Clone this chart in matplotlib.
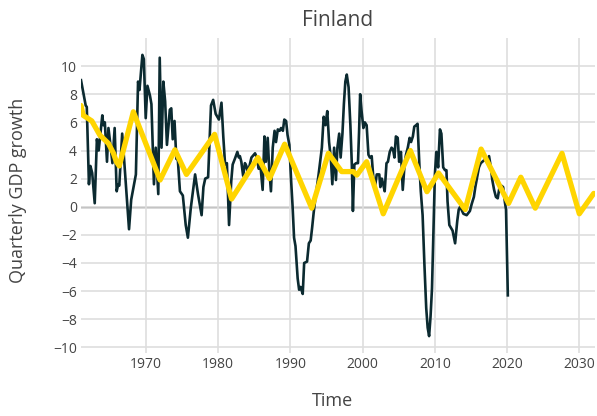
import matplotlib
matplotlib.use("Agg")
import matplotlib.pyplot as plt
import numpy as np

plt.rcParams['font.family'] = ['Open Sans', 'DejaVu Sans']

# Actual quarterly GDP growth (year, value)
gdp_years = [1961.0, 1961.65, 1961.8, 1962.1, 1962.3, 1962.55, 1962.9, 1963.2, 1963.45, 1963.95,
             1964.1, 1964.3, 1964.6, 1964.8, 1965.1, 1965.35, 1965.66, 1965.94, 1966.15, 1966.3,
             1966.7, 1966.95, 1967.3, 1967.65, 1967.95, 1968.6, 1968.9, 1969.1, 1969.5, 1969.7,
             1969.96, 1970.2, 1970.55, 1970.75, 1971.1, 1971.35, 1971.7, 1971.9, 1972.15, 1972.4,
             1972.65, 1972.9, 1973.3, 1973.5, 1973.7, 1973.95, 1974.2, 1974.4, 1974.7, 1975.1,
             1975.5, 1975.8, 1976.2, 1976.8, 1977.2, 1977.7, 1977.95, 1978.2, 1978.6, 1979.0,
             1979.3, 1979.65, 1980.1, 1980.45, 1980.7, 1980.95, 1981.2, 1981.5, 1981.8, 1982.0,
             1982.3, 1982.65, 1982.85, 1983.0, 1983.2, 1983.45, 1983.7, 1983.9, 1984.1, 1984.6,
             1985.1, 1985.35, 1985.6, 1985.85, 1986.15, 1986.4, 1986.6, 1986.85, 1987.05, 1987.3,
             1987.55, 1987.8, 1988.0, 1988.25, 1988.5, 1988.7, 1988.95, 1989.15, 1989.4, 1989.6,
             1989.85, 1990.1, 1990.3, 1990.5, 1990.7, 1991.0, 1991.2, 1991.4, 1991.7, 1991.9,
             1992.3, 1992.55, 1992.8, 1993.0, 1993.2, 1993.45, 1993.9, 1994.35, 1994.6, 1994.85,
             1995.1, 1995.35, 1995.6, 1995.8, 1996.05, 1996.3, 1996.5, 1996.75, 1996.95, 1997.2,
             1997.4, 1997.6, 1997.8, 1998.05, 1998.3, 1998.5, 1998.65, 1998.85, 1999.1, 1999.35,
             1999.5, 1999.65, 1999.85, 2000.1, 2000.3, 2000.55, 2000.8, 2001.0, 2001.25, 2001.5,
             2001.7, 2001.95, 2002.3, 2002.45, 2002.65, 2002.8, 2003.05, 2003.3, 2003.5, 2003.75,
             2004.0, 2004.2, 2004.4, 2004.6, 2004.85, 2005.05, 2005.3, 2005.55, 2005.8, 2006.0,
             2006.25, 2006.5, 2006.7, 2006.95, 2007.15, 2007.4, 2007.6, 2007.85, 2008.05, 2008.3,
             2008.55, 2008.8, 2009.0, 2009.2, 2009.4, 2009.6, 2009.85, 2010.0, 2010.2, 2010.45,
             2010.7, 2010.9, 2011.15, 2011.4, 2011.6, 2011.75, 2012.0, 2012.45, 2012.8, 2013.1,
             2013.3, 2013.5, 2013.95, 2014.4, 2014.85, 2015.1, 2015.4, 2015.6, 2015.85, 2016.1,
             2016.35, 2016.8, 2017.05, 2017.25, 2017.5, 2017.75, 2017.95, 2018.2, 2018.45, 2018.7,
             2018.95, 2019.2, 2019.45, 2019.7, 2019.85, 2020.1]
gdp_values = [9.0, 7.2, 7.1, 1.6, 2.9, 2.4, 0.25, 4.8, 4.0, 6.5,
              5.8, 6.0, 3.2, 5.6, 4.3, 3.1, 5.6, 1.1, 1.6, 1.5,
              5.2, 3.5, 1.0, -1.6, 0.5, 2.3, 8.9, 8.3, 10.8, 10.5,
              6.3, 8.6, 7.9, 7.3, 1.6, 4.2, 0.9, 10.6, 4.2, 8.9,
              7.5, 4.4, 6.9, 7.0, 4.8, 6.1, 3.4, 3.4, 1.1, 0.8,
              -1.3, -2.2, -0.1, 2.3, 0.9, -0.6, 1.4, 2.0, 2.1, 7.2,
              7.6, 6.6, 6.2, 7.4, 5.0, 3.0, 3.1, -1.3, 1.8, 3.0,
              3.4, 3.9, 3.5, 3.6, 3.2, 2.2, 3.1, 2.9, 2.4, 3.5,
              3.8, 3.5, 2.7, 2.9, 1.2, 5.0, 3.2, 4.9, 2.8, 1.1,
              4.2, 5.4, 4.6, 5.5, 5.4, 5.6, 5.4, 6.2, 6.1, 5.1,
              4.4, 1.8, 0.0, -2.2, -2.8, -5.1, -5.9, -5.7, -6.2, -4.0,
              -3.9, -2.6, -2.4, -1.5, -0.5, 0.6, 2.3, 4.2, 6.4, 5.8,
              6.8, 4.6, 3.4, 1.6, 4.2, 1.9, 4.2, 5.2, 3.5, 5.2,
              7.3, 8.9, 9.4, 8.5, 5.8, 3.0, -0.3, 3.0, 3.1, 3.1,
              5.3, 8.0, 6.8, 5.6, 6.0, 5.8, 3.7, 3.5, 3.6, 1.9,
              1.4, 2.3, 2.3, 1.4, 2.0, 1.7, 1.1, 3.1, 3.2, 3.9,
              4.2, 4.1, 3.5, 5.0, 4.9, 3.2, 3.9, 1.2, 3.0, 3.7,
              4.2, 4.9, 4.6, 5.0, 5.7, 5.8, 5.9, 3.0, 1.1, -0.6,
              -4.1, -7.2, -8.6, -9.2, -7.8, -5.8, -0.6, 2.3, 3.9, 2.8,
              5.5, 5.2, 2.8, 2.6, 2.6, 0.4, -1.3, -1.7, -2.6, -1.0,
              -0.2, 0.0, -0.5, -0.6, -0.3, 0.2, 0.7, 1.4, 2.1, 2.8,
              3.1, 3.3, 3.4, 3.1, 3.6, 2.8, 1.9, 1.2, 0.7, 0.6,
              1.4, 1.5, 1.4, 0.3, -0.2, -6.3]

# Fitted / forecast cycle (year, value)
fit_years = [1961.0, 1961.3, 1962.5, 1963.6, 1964.8, 1965.5, 1965.9, 1966.3, 1968.25, 1971.95,
             1974.0, 1975.6, 1979.5, 1981.85, 1985.5, 1987.1, 1989.2, 1992.95, 1995.25, 1997.1,
             1998.7, 1999.2, 2000.55, 2002.85, 2006.6, 2008.9, 2010.5, 2014.2, 2016.4, 2020.2,
             2021.9, 2023.9, 2027.6, 2030.0, 2032.0]
fit_values = [7.2, 6.5, 6.1, 5.1, 4.5, 3.8, 3.2, 2.9, 6.75, 1.9,
              4.05, 2.3, 5.15, 0.55, 3.5, 2.0, 4.45, -0.1, 3.8, 2.5,
              2.5, 2.25, 3.2, -0.5, 4.0, 1.07, 2.4, -0.2, 4.1, 0.24,
              2.1, -0.1, 3.8, -0.5, 0.95]

x_ticks = [1970, 1980, 1990, 2000, 2010, 2020, 2030]
y_ticks = [-10, -8, -6, -4, -2, 0, 2, 4, 6, 8, 10]

fig = plt.figure(figsize=(5.97, 4.16), dpi=100)
ax = fig.add_axes([81/597, 1-353/416, (595-81)/597, (353-38)/416])

ax.set_xlim(1961.0, 2032.17)
ax.set_ylim(-10.4, 12.0)
ax.set_xticks(x_ticks)
ax.set_yticks(y_ticks)
ax.grid(True, color='#dedede', linewidth=1.2, zorder=0)
ax.axhline(0, color='#444444', linewidth=1.0, zorder=1)
for s in ax.spines.values():
    s.set_visible(False)
ax.tick_params(length=0, colors='#444444', labelsize=10, pad=3)

ax.plot(gdp_years, gdp_values, color='#0b2a30', linewidth=1.9, zorder=2,
        solid_joinstyle='round')
ax.plot(fit_years, fit_values, color='#FFD500', linewidth=3.8, zorder=3,
        solid_joinstyle='round', solid_capstyle='round')

fig.text((81+595)/2/597, 1-20/416, 'Finland', ha='center', va='center',
         fontsize=15, color='#444444')
fig.text(333/597, 1-401/416, 'Time', ha='center', va='center',
         fontsize=13, color='#444444')
fig.text(18/597, 1-190/416, 'Quarterly GDP growth', ha='center', va='center',
         rotation=90, fontsize=13, color='#444444')

fig.savefig('out.png', dpi=100)
